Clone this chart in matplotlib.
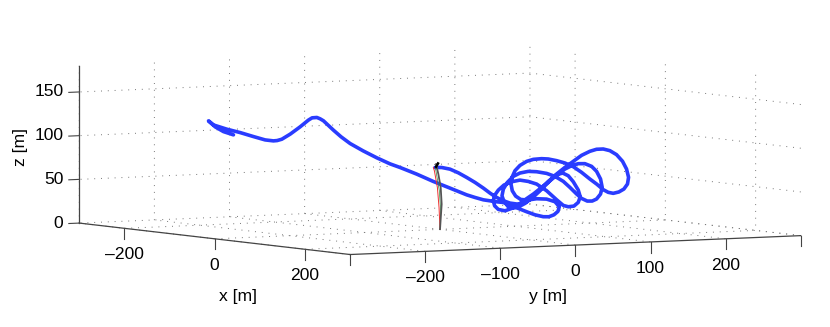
import matplotlib
matplotlib.use('Agg')
import matplotlib.pyplot as plt
from matplotlib.ticker import NullFormatter
from mpl_toolkits.mplot3d import proj3d

plt.rcParams['font.family'] = ['Liberation Sans', 'DejaVu Sans']
plt.rcParams['grid.color'] = '#777777'
plt.rcParams['grid.linewidth'] = 0.7
plt.rcParams['grid.linestyle'] = (0, (1, 6))

# flight path (depth along x cannot be read, kept at 0)
traj_y = [-6.7, 2.2, 13.3, 24.4, 35.5, 46.6, 57.7, 66.5, 73.2, 82.0, 93.1, 102.9, 113.1, 123.3, 133.0, 144.1,
          154.3, 163.2, 170.7, 177.4, 184.0, 186.7, 184.0, 178.3, 170.7, 164.1, 155.2, 141.9, 128.6, 117.5,
          106.4, 95.3, 85.1, 77.6, 72.3, 71.0, 72.7, 77.6, 86.5, 95.3, 104.2, 114.4, 124.2, 135.2, 146.3,
          157.4, 166.3, 175.2, 184.0, 192.9, 201.8, 208.4, 213.7, 215.9, 213.7, 208.4, 202.6, 196.0, 188.5,
          181.8, 172.9, 164.1, 153.0, 141.9, 128.6, 117.5, 106.4, 97.6, 89.6, 84.3, 82.5, 85.1, 90.9, 97.6,
          105.5, 113.1, 123.3, 133.0, 144.1, 155.2, 166.3, 177.4, 188.5, 199.5, 208.4, 217.3, 226.1, 235.0,
          243.0, 248.3, 251.0, 249.6, 244.8, 238.1, 230.6, 223.9, 217.3, 208.4, 199.5, 188.5, 177.4, 166.3,
          155.2, 144.1, 135.2, 124.2, 115.3, 106.4, 99.8, 95.8, 94.5, 96.2, 100.7, 107.3, 116.2, 128.6, 141.9,
          153.0, 158.8, 157.0, 151.7, 145.0, 137.5, 126.4, 115.3, 104.2, 93.1, 84.3, 75.4, 66.5, 57.7, 46.6,
          35.5, 24.4, 13.3, 2.2, -8.9, -20.0, -31.0, -42.1, -53.2, -66.5, -84.2, -102.4, -119.7, -131.7,
          -141.9, -155.2, -159.6, -164.0, -170.3, -175.2, -186.2, -199.5, -210.6, -216.8, -221.8, -232.8,
          -248.4, -266.1, -283.8, -301.6, -308.2, -299.3, -288.3, -275.0]
traj_z = [71.0, 70.7, 68.4, 63.8, 58.1, 52.0, 45.1, 39.1, 35.0, 30.5, 26.7, 25.2, 26.3, 32.1, 40.2, 49.7,
          56.6, 58.6, 55.2, 48.1, 38.4, 30.6, 24.2, 20.2, 19.7, 21.5, 28.3, 39.1, 47.2, 50.6,
          52.5, 51.0, 47.6, 42.1, 35.8, 30.1, 24.3, 20.0, 18.1, 20.5, 24.4, 30.5, 35.9, 43.1, 50.4,
          57.6, 63.0, 66.5, 68.5, 68.2, 64.8, 58.9, 49.9, 40.3, 32.7, 27.2, 25.1, 25.3, 28.6,
          33.9, 41.8, 49.0, 55.1, 58.9, 61.3, 62.1, 60.6, 57.1, 50.5, 43.0, 35.4, 28.9, 22.5, 20.8,
          22.4, 25.6, 32.1, 39.4, 48.5, 57.7, 64.9, 71.4, 77.9, 82.1, 84.1, 84.1, 81.9, 77.0,
          69.1, 60.1, 50.5, 42.9, 37.3, 34.2, 32.9, 34.3, 37.6, 44.4, 50.4, 58.4, 65.3, 69.9,
          73.0, 75.3, 76.0, 75.6, 73.6, 69.3, 63.5, 56.0, 48.4, 40.7, 34.4, 30.4, 29.3, 30.4, 29.5,
          26.1, 20.2, 14.9, 11.2, 9.2, 9.5, 12.1, 16.0, 20.2, 24.8, 27.7, 28.8, 30.3, 31.7, 34.8,
          38.2, 42.5, 46.7, 50.9, 55.1, 59.7, 64.3, 68.5, 72.7, 77.3, 84.9, 93.5, 102.5, 110.6,
          118.6, 129.8, 132.2, 133.9, 133.7, 131.3, 124.0, 116.1, 110.7, 109.4, 109.2, 110.7,
          115.1, 120.3, 124.8, 130.3, 135.2, 128.0, 122.2, 118.0]
traj_x = [0] * len(traj_y)

# the short mast at the origin
gray_y = [0, 2.2, 0.9, -2.2, -5.3]
gray_z = [0.2, 28.7, 47.9, 63.3, 74.8]
red_y = [0, -1.3, -3.5, -7.5, -8.9]
red_z = [0.2, 25.0, 48.0, 67.3, 71.1]
green_y = [0, 0.9, -0.9, -6.2]
green_z = [0.2, 21.2, 44.1, 71.0]
black_y = [-5.3, -2.7]
black_z = [71.8, 75.5]

x_ticks = [-200, 0, 200]
y_ticks = [-300, -200, -100, 0, 100, 200, 300]
y_labelled = [-200, -100, 0, 100, 200]
z_ticks = [0, 50, 100, 150]

fig = plt.figure(figsize=(8.3, 3.27), dpi=100)
side = 327
ax = fig.add_axes([272.1 / 830, 8.4 / 327, side / 830, side / 327], projection='3d')
ax.patch.set_alpha(0)
ax.computed_zorder = False
ax.set_proj_type('ortho')
ax.view_init(elev=4, azim=-31)
ax.set_box_aspect((600, 600, 180), zoom=737.9 / 327)

lines = []
lines += ax.plot(traj_x, traj_y, traj_z, color='#2A3CFF', lw=2.6, solid_capstyle='round', solid_joinstyle='round', zorder=3)
lines += ax.plot([0] * len(green_y), green_y, green_z, color='#2E8B3E', lw=0.5, zorder=4)
lines += ax.plot([0] * len(red_y), red_y, red_z, color='#F03030', lw=0.7, zorder=4)
lines += ax.plot([0] * len(gray_y), gray_y, gray_z, color='#555555', lw=1.3, zorder=5)
lines += ax.plot([0] * len(black_y), black_y, black_z, color='black', lw=1.8, zorder=6)
for line in lines:
    line.set_clip_on(False)

ax.set_xlim(-300, 300, view_margin=0)
ax.set_ylim(-300, 300, view_margin=0)
ax.set_zlim(0, 180, view_margin=0)
ax.set_xticks(x_ticks)
ax.set_yticks(y_ticks)
ax.set_zticks(z_ticks)
ax.zaxis.set_ticks_position('lower')
ax.tick_params(axis='both', color='#444444', width=0.8)

# matlab style ticks: x and y ticks hang straight down
ax.xaxis._get_tickdir = lambda position: 2
ax.yaxis._get_tickdir = lambda position: 2

for axis, factor in [(ax.xaxis, 0.84), (ax.yaxis, 0.84), (ax.zaxis, -0.29)]:
    axis.set_pane_color((1, 1, 1, 0))
    axis.line.set_color('#444444')
    axis.line.set_linewidth(0.9)
    axis._axinfo['tick']['inward_factor'] = 0
    axis._axinfo['tick']['outward_factor'] = factor
    axis.set_major_formatter(NullFormatter())
    axis.offsetText.set_visible(False)
    axis.label.set_visible(False)


def label_at(x, y, z, text, ha='center'):
    # tick labels sit at a 3d spot but are written as plain 2d text
    px, py, _ = proj3d.proj_transform(x, y, z, ax.get_proj())
    ax.text2D(px, py, text, transform=ax.transData, ha=ha, va='center', fontsize=12.6, clip_on=False)


for v in x_ticks:
    label_at(v, -300, -30, str(v).replace('-', '\u2013'))
for v in y_labelled:
    label_at(300, v, -30, str(v).replace('-', '\u2013'))
for v in z_ticks:
    label_at(-309.4, -315.6, v, str(v), ha='right')

fig.text(238 / 830, 1 - 297 / 327, 'x [m]', ha='center', va='center', fontsize=12.6)
fig.text(548 / 830, 1 - 297 / 327, 'y [m]', ha='center', va='center', fontsize=12.6)
fig.text(20 / 830, 1 - 147 / 327, 'z [m]', ha='center', va='center', rotation=90, fontsize=12.6)

fig.savefig('out.png', dpi=100)
